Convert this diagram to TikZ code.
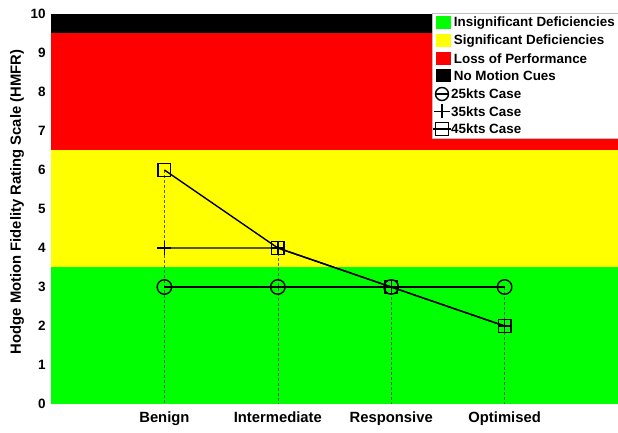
\documentclass[tikz,border=0pt]{standalone}
\usepackage{fontspec}
\setmainfont{Liberation Sans}
\usetikzlibrary{positioning}
\definecolor{hmgreen}{RGB}{0,255,0}
\definecolor{hmyellow}{RGB}{255,255,0}
\definecolor{hmred}{RGB}{255,0,0}
\tikzset{
  ring/.style={circle,draw,line width=1.4pt,minimum size=14.5pt,inner sep=0pt},
  boxmark/.style={rectangle,draw,line width=1.4pt,minimum size=12.5pt,inner sep=0pt},
  series/.style={line width=1.4pt},
  guide/.style={densely dashed,gray!70!black,line width=0.4pt},
  ticklab/.style={font=\bfseries\fontsize{13.5}{14}\selectfont,inner sep=0pt},
  catlab/.style={font=\bfseries\fontsize{14.8}{15}\selectfont,inner sep=0pt,anchor=north},
  legtext/.style={font=\bfseries\fontsize{13.4}{14}\selectfont,inner sep=0pt,anchor=west},
  swatch/.style={rectangle,minimum width=15pt,minimum height=13pt,inner sep=0pt}
}
\begin{document}
\begin{tikzpicture}[x=1pt,y=1pt]
			%%%%% START %%%%%
			\useasboundingbox (0,0) rectangle (618,433);
			\fill[white] (0,0) rectangle (618,433);
			
			\begin{scope}[shift={(51,29)},x=113.4pt,y=39pt]
			% rating bands
			\fill[hmgreen] (0,0) rectangle (5,3.5);
			\fill[hmyellow] (0,3.5) rectangle (5,6.5);
			\fill[hmred] (0,6.5) rectangle (5,9.5);
			\fill[black] (0,9.5) rectangle (5,10);
			
			% data points
			\coordinate (b25) at (1,3); \coordinate (i25) at (2,3);
			\coordinate (r25) at (3,3); \coordinate (o25) at (4,3);
			\coordinate (b35) at (1,4); \coordinate (i35) at (2,4);
			\coordinate (r35) at (3,3); \coordinate (o35) at (4,2);
			\coordinate (b45) at (1,6); \coordinate (i45) at (2,4);
			\coordinate (r45) at (3,3); \coordinate (o45) at (4,2);
			
			% guide lines
			\draw[guide] (b45) -- (1,0);
			\draw[guide] (i45) -- (2,0);
			\draw[guide] (r45) -- (3,0);
			\draw[guide] (o25) -- (4,0);
			
			\draw[series] (b25) -- (i25) -- (r25) -- (o25);
			\draw[series] (b35) -- (i35) -- (r35) -- (o35);
			\draw[series] (b45) -- (i45) -- (r45) -- (o45);
			
			\foreach \p in {b25,i25,r25,o25}
				\node[ring] at (\p) {};
			\foreach \p in {b35,i35,r35,o35}
				\draw[series] ([xshift=-7pt]\p) -- ([xshift=7pt]\p)
					([yshift=-7pt]\p) -- ([yshift=7pt]\p);
			\foreach \p in {b45,i45,r45,o45}
				\node[boxmark] at (\p) {};
			
			% axis labels
			\foreach \v in {0,...,10}
				\node[ticklab,anchor=east] (y\v) at (-0.045,\v) {\v};
			\node[catlab] (xb) at (1,-0.2) {Benign};
			\node[catlab] (xi) at (2,-0.2) {Intermediate};
			\node[catlab] (xr) at (3,-0.2) {Responsive};
			\node[catlab] (xo) at (4,-0.2) {Optimised};
			\end{scope}
			
			\node[catlab,anchor=center,rotate=90] (ylab) at (17,231) {Hodge Motion Fidelity Rating Scale (HMFR)};
			
			% legend
			\draw[fill=white,draw=gray!50,line width=0.4pt] (432,295) rectangle (620,420);
			\node[swatch,fill=hmgreen] (s1) at (443.5,410) {};
			\node[legtext,right=2.5pt of s1] (l1) {Insignificant Deficiencies};
			\node[swatch,fill=hmyellow] (s2) at (443.5,392) {};
			\node[legtext,right=2.5pt of s2] (l2) {Significant Deficiencies};
			\node[swatch,fill=hmred] (s3) at (443.5,374.5) {};
			\node[legtext,right=2.5pt of s3] (l3) {Loss of Performance};
			\node[swatch,fill=black] (s4) at (443.5,357) {};
			\node[legtext,right=2.5pt of s4] (l4) {No Motion Cues};
			
			\node[ring,minimum size=13pt] (m5) at (442,339) {};
			\draw[series] (m5.west) -- (m5.east);
			\node[legtext] (l5) at (451,339) {25kts Case};
			\coordinate (m6) at (442,321.5);
			\draw[series] ([xshift=-8pt]m6) -- ([xshift=8pt]m6)
				([yshift=-7pt]m6) -- ([yshift=7pt]m6);
			\node[legtext] (l6) at (451,321.5) {35kts Case};
			\node[boxmark] (m7) at (442,304) {};
			\draw[series] ([xshift=-2pt]m7.west) -- ([xshift=2pt]m7.east);
			\node[legtext] (l7) at (451,304) {45kts Case};
			
			%%%%% END %%%%%
\end{tikzpicture}
\end{document}
